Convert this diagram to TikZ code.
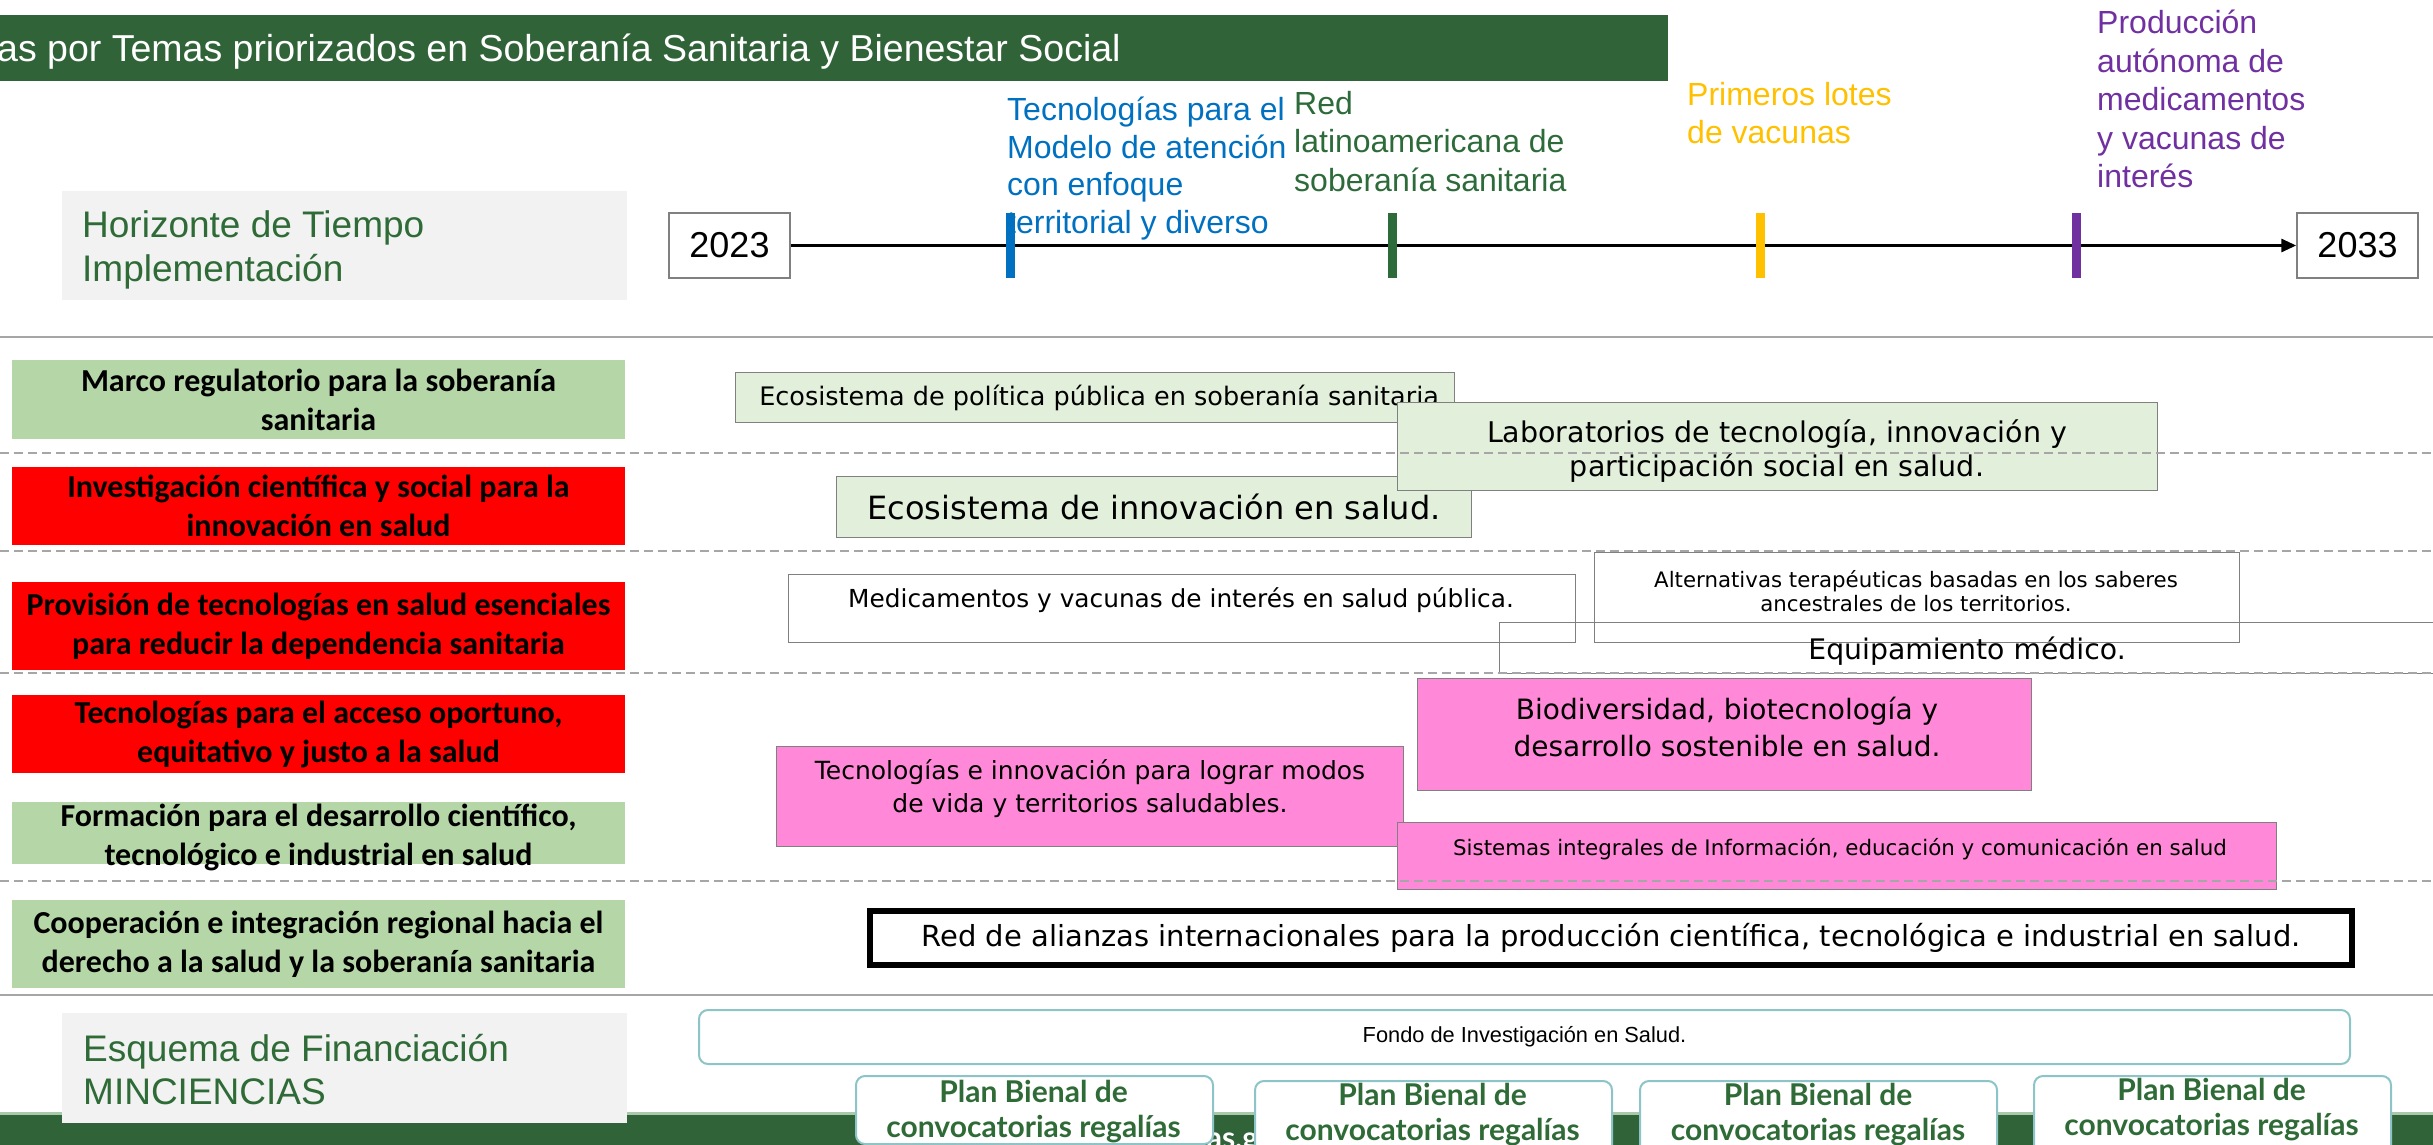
\documentclass[tikz,border=0pt]{standalone}
\usepackage{fontspec}
\setmainfont{Liberation Sans}
\newfontfamily\rowfont{Carlito}
\newfontfamily\boxfont{DejaVu Sans}
\newfontfamily\planfont{Lato}
\usetikzlibrary{arrows.meta}
\definecolor{bargreen}{RGB}{49,99,57}
\definecolor{barlight}{RGB}{170,200,170}
\definecolor{txtgreen}{RGB}{47,107,55}
\definecolor{rowgreen}{RGB}{181,215,168}
\definecolor{boxgreen}{RGB}{226,239,218}
\definecolor{boxpink}{RGB}{255,137,216}
\definecolor{panelgray}{RGB}{242,242,242}
\definecolor{linegray}{RGB}{166,166,166}
\definecolor{tblue}{RGB}{0,112,192}
\definecolor{tgreen}{RGB}{46,107,58}
\definecolor{tyellow}{RGB}{255,192,0}
\definecolor{tpurple}{RGB}{112,48,160}
\definecolor{planline}{RGB}{140,196,200}
\newcommand{\fs}[2]{\fontsize{#1}{#2}\selectfont}

\begin{document}
\begin{tikzpicture}[x=1pt,y=-1pt]
	\tikzset{rowlab/.style={minimum width=613, inner sep=0pt, align=center, font=\rowfont\bfseries\fs{32}{39}},
		graybox/.style={fill=panelgray, minimum width=565, minimum height=109, anchor=north west, inner sep=0pt},
		headtxt/.style={anchor=north west, align=left, inner sep=0pt, text=txtgreen},
		yearbox/.style={draw=gray, line width=1.5pt, fill=white, minimum width=121, minimum height=65, inner sep=0pt, font=\fs{36}{36}},
		tickmark/.style={minimum width=9, minimum height=65, inner sep=0pt},
		tlab/.style={anchor=north west, align=left, inner sep=0pt, font=\fs{32}{38.5}},
		task/.style={draw=gray, line width=1.2pt, anchor=north west, inner sep=0pt, align=center, font=\boxfont},
		tasktxt/.style={align=center, inner sep=0pt},
		plan/.style={draw=planline, line width=2pt, fill=white, rounded corners=9pt, minimum width=357, minimum height=90, anchor=north west, inner sep=0pt},
		plantxt/.style={align=center, inner sep=0pt, text=txtgreen, font=\planfont\bfseries\fs{30}{35}},
		sepline/.style={linegray, line width=2.5pt},
		rowsep/.style={linegray, line width=2.5pt, dash pattern=on 9pt off 5pt}}
	\useasboundingbox (0,0) rectangle (2433,1145);
	\node[fill=bargreen, minimum width=1668, minimum height=66, inner sep=0pt, anchor=north west] (titlebar) at (0,15) {};
	\node[anchor=base west, inner sep=0pt, text=white, font=\fs{37.5}{37.5}] (title) at (-3,62) {as por Temas priorizados en Soberanía Sanitaria y Bienestar Social};
	\node[graybox] (hbox) at (62,191) {};
	\node[headtxt, font=\fs{37}{44}] (htxt) at (82,210) {Horizonte de Tiempo\\Implementación};
	\node[yearbox] (y23) at (729.5,245.5) {2023};
	\node[yearbox] (y33) at (2357.5,245.5) {2033};
	\draw[line width=3pt, -{Triangle[length=15pt,width=13pt]}] (y23) -- (y33);
	\node[tlab, text=tblue, font=\fs{32}{37.5}] (lb1) at (1007,97) {Tecnologías para el\\Modelo de atención\\con enfoque\\territorial y diverso};
	\node[tlab, text=tgreen] (lb2) at (1294,91) {Red\\latinoamericana de\\soberanía sanitaria};
	\node[tlab, text=tyellow] (lb3) at (1687,82) {Primeros lotes\\de vacunas};
	\node[tlab, text=tpurple] (lb4) at (2097,10) {Producción\\autónoma de\\medicamentos\\y vacunas de\\interés};
	\node[tickmark, fill=tblue] (tk1) at (1010,245.5) {};
	\node[tickmark, fill=tgreen] (tk2) at (1392,245.5) {};
	\node[tickmark, fill=tyellow] (tk3) at (1760,245.5) {};
	\node[tickmark, fill=tpurple] (tk4) at (2076,245.5) {};
	\draw[sepline] (0,337) -- (2433,337);
	\draw[sepline] (0,995) -- (2433,995);
	\node[rowlab, fill=rowgreen, minimum height=79] (r1) at (318.5,399.5) {Marco regulatorio para la soberanía\\sanitaria};
	\node[rowlab, fill=red, minimum height=78] (r2) at (318.5,506) {Investigación científica y social para la\\innovación en salud};
	\node[rowlab, fill=red, minimum height=88] (r3) at (318.5,626) {Provisión de tecnologías en salud esenciales\\para reducir la dependencia sanitaria};
	\node[rowlab, fill=red, minimum height=78] (r4) at (318.5,734) {Tecnologías para el acceso oportuno,\\equitativo y justo a la salud};
	\node[rowlab, fill=rowgreen, minimum height=62] (r5) at (318.5,833) {};
	\node[rowlab] (r5t) at (318.5,837) {Formación para el desarrollo científico,\\tecnológico e industrial en salud};
	\node[rowlab, fill=rowgreen, minimum height=88] (r6) at (318.5,944) {Cooperación e integración regional hacia el\\derecho a la salud y la soberanía sanitaria};
	\node[task, fill=boxgreen, minimum width=719, minimum height=50, font=\boxfont\fs{25.5}{30}] (eco) at (735,372) {\hspace*{8pt}Ecosistema de política pública en soberanía sanitaria};
	\node[task, fill=boxgreen, minimum width=635, minimum height=61, font=\boxfont\fs{32}{36}] (inno) at (836,476) {Ecosistema de innovación en salud.};
	\node[task, fill=boxgreen, minimum width=760, minimum height=88] (lab) at (1397,402) {};
	\node[tasktxt, font=\boxfont\fs{28.5}{34}] (labt) at (1777,451) {Laboratorios de tecnología, innovación y\\participación social en salud.};
	\node[task, minimum width=787, minimum height=68] (med) at (788,574) {};
	\node[tasktxt, font=\boxfont\fs{24.8}{28}] (medt) at (1181,600) {Medicamentos y vacunas de interés en salud pública.};
	\node[task, minimum width=645, minimum height=90] (alt) at (1594,552) {};
	\node[tasktxt, font=\boxfont\fs{21.3}{23.5}] (altt) at (1916,591) {Alternativas terapéuticas basadas en los saberes\\ancestrales de los territorios.};
	\node[task, minimum width=935, minimum height=51] (equip) at (1499,622) {};
	\node[tasktxt, font=\boxfont\fs{28.3}{32}] (equipt) at (1967,651) {Equipamiento médico.};
	\node[task, fill=boxpink, minimum width=614, minimum height=112] (bio) at (1417,678) {};
	\node[tasktxt, font=\boxfont\fs{28}{37}] (biot) at (1727,727) {Biodiversidad, biotecnología y\\desarrollo sostenible en salud.};
	\node[task, fill=boxpink, minimum width=627, minimum height=100] (tecinno) at (776,746) {};
	\node[tasktxt, font=\boxfont\fs{25}{33}] (tecinnot) at (1090,789) {Tecnologías e innovación para lograr modos\\de vida y territorios saludables.};
	\node[task, fill=boxpink, minimum width=879, minimum height=67] (sis) at (1397,822) {};
	\node[tasktxt, font=\boxfont\fs{21.4}{24}] (sist) at (1840,849) {Sistemas integrales de Información, educación y comunicación en salud};
	\node[task, draw=black, line width=6pt, fill=white, minimum width=1482, minimum height=54, font=\boxfont\fs{29}{32}] (alianzas) at (867,908) {Red de alianzas internacionales para la producción científica, tecnológica e industrial en salud.};
	\draw[rowsep] (0,453) -- (2433,453);
	\draw[rowsep] (0,551) -- (2433,551);
	\draw[rowsep] (0,673) -- (2433,673);
	\draw[rowsep] (0,881) -- (2433,881);
	\fill[bargreen] (0,1114) rectangle (2433,1150);
	\draw[barlight, line width=3pt] (0,1113) -- (2433,1113);
	\node[graybox, minimum height=110] (ebox) at (62,1013) {};
	\node[headtxt, font=\fs{37}{43}] (etxt) at (83,1034) {Esquema de Financiación\\MINCIENCIAS};
	\node[anchor=base west, inner sep=0pt, text=white, font=\planfont\bfseries\fs{30}{30}] (web) at (1001,1148) {www.minciencias.gov.co};
	\node[plan, minimum width=1651, minimum height=54, font=\fs{21.8}{24}] (fondo) at (698,1009) {Fondo de Investigación en Salud.};
	\node[plan, minimum height=68] (p1) at (855,1075) {};
	\node[plan] (p2) at (1254,1080) {};
	\node[plan] (p3) at (1639,1080) {};
	\node[plan] (p4) at (2033,1075) {};
	\node[plantxt] (p1t) at (1033.5,1112) {Plan Bienal de\\convocatorias regalías};
	\node[plantxt] (p2t) at (1432.5,1115) {Plan Bienal de\\convocatorias regalías};
	\node[plantxt] (p3t) at (1818,1115) {Plan Bienal de\\convocatorias regalías};
	\node[plantxt] (p4t) at (2211.5,1110) {Plan Bienal de\\convocatorias regalías};
\end{tikzpicture}
\end{document}
